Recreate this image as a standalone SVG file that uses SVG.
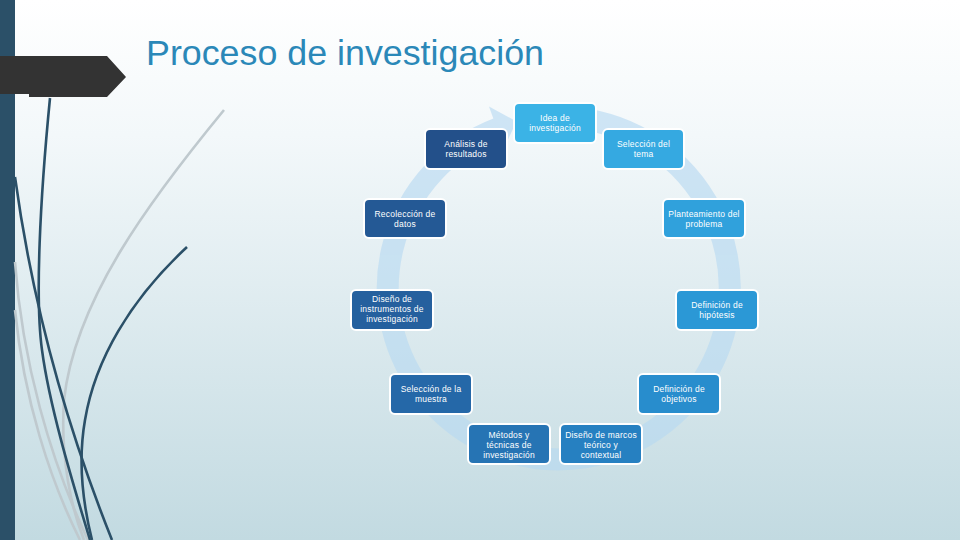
<svg xmlns="http://www.w3.org/2000/svg" width="960" height="540" viewBox="0 0 960 540">
<defs>
<linearGradient id="bg" x1="0" y1="0" x2="0" y2="1">
<stop offset="0" stop-color="#FFFFFF"/>
<stop offset="0.25" stop-color="#F3F8FA"/>
<stop offset="1" stop-color="#C2DAE1"/>
</linearGradient>
<style>
.node rect{stroke:#FFFFFF;stroke-width:2}
.node text{font-family:"Liberation Sans",Arial,sans-serif;font-size:8.5px;fill:#FFFFFF;text-anchor:middle;letter-spacing:0.2px}
.dk{fill:none;stroke:#2B5068;stroke-width:2.6}
.lt{fill:none;stroke:#BFC9CE;stroke-width:2.6}
.band{opacity:0.6}
</style>
</defs>
<rect x="0" y="0" width="960" height="540" fill="url(#bg)"/>
<rect x="0" y="0" width="15" height="540" fill="#2B5068"/>
<g id="decor">
<path class="lt" d="M224,110 C150,200 75,300 64,400 C60,460 72,510 84,540"/>
<path class="lt" d="M15,262 C22,360 50,460 88,540"/>
<path class="lt" d="M15,310 C24,400 50,480 80,540"/>
<path class="dk" d="M50,98 C40,200 35,300 42,350 C50,410 75,490 90,540"/>
<path class="dk" d="M15,177 Q40,360 112,540"/>
<path class="dk" d="M187,247 C130,300 95,360 85,420 C78,460 82,500 92,540" stroke-width="2.2"/>
</g>
<polygon points="0,56 107,56 126,77 107,97 29,97 29,94 0,94" fill="#333333"/>
<text x="146" y="65" font-family="Liberation Sans, Arial, sans-serif" font-size="35.8" fill="#2B88B8">Proceso de investigación</text>
<g id="connectors">
<g class="band">
<path d="M569.9,117.7 A171,171 0 1 1 498,128.5" fill="none" stroke="#B5D8F2" stroke-width="22"/>
<polygon points="489,106.6 516.5,121.4 504,148" fill="#B5D8F2"/>
</g>
</g>
<g id="n1" class="node"><rect x="514" y="103" width="82" height="40" rx="5" fill="#3BB3E6"/><text x="555" y="121">Idea de</text><text x="555" y="131">investigación</text></g>
<g id="n2" class="node"><rect x="603" y="129" width="81" height="40" rx="5" fill="#35A9E1"/><text x="643.5" y="147">Selección del</text><text x="643.5" y="157">tema</text></g>
<g id="n3" class="node"><rect x="663" y="199" width="82" height="39" rx="5" fill="#30A1DC"/><text x="704" y="217">Planteamiento del</text><text x="704" y="227">problema</text></g>
<g id="n4" class="node"><rect x="676" y="290" width="82" height="40" rx="5" fill="#2B98D6"/><text x="717" y="308">Definición de</text><text x="717" y="318">hipótesis</text></g>
<g id="n5" class="node"><rect x="638" y="374" width="82" height="40" rx="5" fill="#288DCD"/><text x="679" y="392">Definición de</text><text x="679" y="402">objetivos</text></g>
<g id="n6" class="node"><rect x="560" y="424" width="82" height="40" rx="5" fill="#2680C1"/><text x="601" y="438">Diseño de marcos</text><text x="601" y="448">teórico y</text><text x="601" y="458">contextual</text></g>
<g id="n7" class="node"><rect x="468" y="424" width="82" height="40" rx="5" fill="#2674B4"/><text x="509" y="438">Métodos y</text><text x="509" y="448">técnicas de</text><text x="509" y="458">investigación</text></g>
<g id="n8" class="node"><rect x="390" y="374" width="82" height="40" rx="5" fill="#2568A8"/><text x="431" y="392">Selección de la</text><text x="431" y="402">muestra</text></g>
<g id="n9" class="node"><rect x="351" y="290" width="82" height="40" rx="5" fill="#25609E"/><text x="392" y="302">Diseño de</text><text x="392" y="312">instrumentos de</text><text x="392" y="322">investigación</text></g>
<g id="n10" class="node"><rect x="364" y="199" width="82" height="39" rx="5" fill="#245995"/><text x="405" y="217">Recolección de</text><text x="405" y="227">datos</text></g>
<g id="n11" class="node"><rect x="425" y="129" width="82" height="40" rx="5" fill="#23508A"/><text x="466" y="147">Análisis de</text><text x="466" y="157">resultados</text></g>
</svg>
